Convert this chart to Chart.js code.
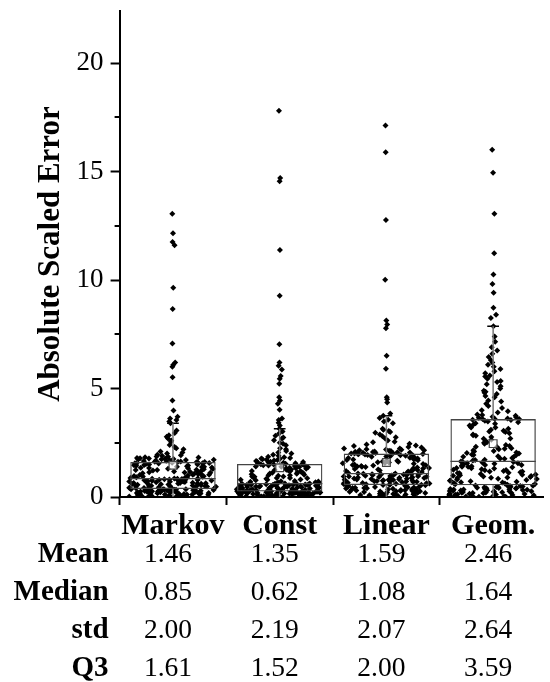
<!DOCTYPE html>
<html>
<head>
<meta charset="utf-8">
<title>Absolute Scaled Error</title>
<script src="https://cdn.jsdelivr.net/npm/chart.js@4"></script>
<style>
html, body { margin: 0; padding: 0; background: #fff; }
</style>
</head>
<body>
<canvas id="myChart" width="550" height="682"></canvas>
<script>
var categories = ['Markov', 'Const', 'Linear', 'Geom.']

// absolute scaled error of every test series, one list per forecaster
var markovErr = [
    0.02,0.03,0.04,0.05,0.05,0.07,0.08,0.09,0.1,0.11,
    0.11,0.13,0.14,0.15,0.16,0.17,0.18,0.18,0.2,0.21,
    0.22,0.23,0.24,0.25,0.25,0.26,0.27,0.28,0.29,0.3,
    0.3,0.31,0.32,0.33,0.33,0.34,0.35,0.36,0.36,0.37,
    0.38,0.4,0.41,0.42,0.44,0.45,0.46,0.48,0.49,0.5,
    0.52,0.53,0.54,0.56,0.57,0.58,0.6,0.61,0.62,0.63,
    0.65,0.66,0.67,0.69,0.7,0.71,0.72,0.74,0.75,0.76,
    0.77,0.78,0.79,0.8,0.81,0.82,0.83,0.84,0.84,0.85,
    0.87,0.89,0.91,0.93,0.95,0.97,0.99,1.01,1.03,1.05,
    1.07,1.1,1.12,1.14,1.16,1.18,1.2,1.22,1.24,1.26,
    1.28,1.3,1.32,1.34,1.36,1.38,1.4,1.42,1.44,1.46,
    1.48,1.5,1.52,1.53,1.55,1.56,1.58,1.59,1.6,1.61,
    1.63,1.66,1.68,1.7,1.73,1.75,1.78,1.8,1.83,1.87,
    1.92,2.0,2.1,2.2,2.3,2.4,2.55,2.7,2.78,2.85,
    2.95,3.06,3.4,3.48,3.55,3.62,3.7,3.99,4.45,5.52,
    6.0,6.1,6.2,7.07,8.67,9.65,11.6,11.75,12.16,13.05,
    0.01,0.03,0.06,0.08,0.12,0.14,0.17,0.19,0.22,0.24,
    0.27,0.29,0.31,0.34,0.36,0.39,0.43,0.47,0.51,0.55,
    0.59,0.62,0.64,0.68,0.71,0.73,0.76,0.79,0.82,0.85,
    0.9,0.96,1.02,1.08,1.13,1.19,1.25,1.29,1.35,1.4,
    1.45,1.5,1.54,1.57,1.6,1.62,1.64,1.67,1.69,1.72,
    1.74,1.77,1.79,1.82,1.85,1.9,1.95,2.05,2.25,2.6
]
var constErr = [
    0.01,0.01,0.02,0.03,0.03,0.04,0.05,0.05,0.06,0.07,
    0.07,0.08,0.09,0.09,0.1,0.11,0.11,0.12,0.13,0.13,
    0.14,0.15,0.15,0.16,0.17,0.17,0.18,0.19,0.19,0.2,
    0.21,0.21,0.22,0.22,0.23,0.23,0.24,0.24,0.25,0.25,
    0.26,0.27,0.28,0.29,0.3,0.31,0.32,0.33,0.34,0.35,
    0.36,0.37,0.38,0.39,0.4,0.41,0.42,0.43,0.44,0.45,
    0.46,0.47,0.48,0.49,0.5,0.51,0.52,0.53,0.54,0.55,
    0.56,0.57,0.58,0.59,0.59,0.6,0.6,0.61,0.61,0.62,
    0.64,0.66,0.68,0.7,0.72,0.74,0.77,0.79,0.81,0.84,
    0.86,0.88,0.9,0.93,0.95,0.98,1.0,1.02,1.05,1.07,
    1.1,1.12,1.15,1.17,1.2,1.22,1.25,1.27,1.3,1.32,
    1.35,1.37,1.39,1.41,1.43,1.45,1.47,1.49,1.5,1.52,
    1.55,1.58,1.62,1.66,1.7,1.74,1.78,1.83,1.9,2.0,
    2.12,2.25,2.38,2.5,2.62,2.74,2.82,2.93,3.02,3.14,
    3.3,3.42,3.55,3.62,4.02,4.3,4.45,4.6,5.22,5.45,
    5.58,5.88,6.05,6.2,7.04,9.27,11.39,14.55,14.7,17.8,
    0.01,0.02,0.04,0.06,0.08,0.1,0.12,0.14,0.16,0.18,
    0.2,0.22,0.23,0.24,0.25,0.27,0.3,0.33,0.36,0.39,
    0.42,0.45,0.47,0.5,0.52,0.55,0.57,0.58,0.6,0.62,
    0.67,0.73,0.8,0.87,0.94,1.0,1.08,1.14,1.2,1.26,
    1.33,1.38,1.42,1.46,1.51,1.53,1.56,1.59,1.61,1.64,
    1.68,1.72,1.76,1.8,1.86,1.95,2.05,2.2,2.45,2.7
]
var linearErr = [
    0.02,0.03,0.05,0.06,0.08,0.09,0.1,0.12,0.13,0.15,
    0.16,0.17,0.19,0.2,0.22,0.23,0.24,0.26,0.27,0.29,
    0.3,0.31,0.33,0.34,0.35,0.37,0.38,0.4,0.41,0.42,
    0.44,0.45,0.46,0.48,0.49,0.5,0.51,0.52,0.54,0.55,
    0.56,0.57,0.59,0.6,0.61,0.63,0.64,0.65,0.67,0.68,
    0.69,0.71,0.72,0.73,0.75,0.76,0.77,0.79,0.8,0.81,
    0.83,0.84,0.85,0.87,0.88,0.89,0.91,0.92,0.93,0.95,
    0.96,0.97,0.99,1.0,1.01,1.03,1.04,1.05,1.07,1.08,
    1.1,1.12,1.15,1.17,1.2,1.22,1.24,1.27,1.29,1.31,
    1.34,1.36,1.38,1.41,1.43,1.45,1.48,1.5,1.52,1.55,
    1.57,1.59,1.62,1.64,1.66,1.69,1.71,1.73,1.76,1.78,
    1.8,1.83,1.85,1.87,1.9,1.92,1.94,1.96,1.98,2.0,
    2.02,2.04,2.06,2.08,2.1,2.13,2.16,2.18,2.2,2.24,
    2.3,2.37,2.45,2.52,2.6,2.7,2.8,2.88,2.96,3.04,
    3.1,3.15,3.4,3.48,3.56,3.64,3.75,3.85,4.35,4.5,
    4.6,5.91,6.51,7.78,7.95,8.13,10.01,12.77,15.89,17.12,
    0.01,0.04,0.07,0.11,0.14,0.18,0.21,0.25,0.28,0.32,
    0.36,0.39,0.43,0.47,0.53,0.58,0.62,0.66,0.7,0.74,
    0.78,0.82,0.86,0.9,0.94,0.98,1.02,1.04,1.06,1.08,
    1.14,1.19,1.26,1.33,1.39,1.46,1.53,1.6,1.67,1.74,
    1.81,1.88,1.93,1.97,1.99,2.01,2.03,2.05,2.07,2.09,
    2.12,2.15,2.19,2.23,2.28,2.35,2.42,2.55,2.75,3.0
]
var geomErr = [
    0.01,0.02,0.04,0.05,0.06,0.08,0.09,0.1,0.12,0.13,
    0.14,0.16,0.17,0.18,0.2,0.21,0.22,0.24,0.25,0.26,
    0.28,0.29,0.3,0.32,0.33,0.34,0.36,0.37,0.38,0.4,
    0.41,0.42,0.44,0.45,0.46,0.48,0.49,0.5,0.52,0.54,
    0.56,0.59,0.62,0.64,0.67,0.7,0.73,0.75,0.78,0.81,
    0.84,0.87,0.89,0.92,0.95,0.98,1.0,1.03,1.06,1.09,
    1.12,1.14,1.17,1.2,1.23,1.26,1.28,1.31,1.34,1.37,
    1.4,1.42,1.45,1.48,1.5,1.53,1.56,1.59,1.62,1.64,
    1.68,1.72,1.76,1.8,1.84,1.88,1.92,1.96,2.0,2.05,
    2.1,2.15,2.2,2.25,2.3,2.35,2.4,2.46,2.52,2.58,
    2.64,2.7,2.76,2.82,2.88,2.94,3.0,3.05,3.1,3.15,
    3.2,3.25,3.3,3.35,3.4,3.44,3.48,3.52,3.56,3.59,
    3.6,3.62,3.65,3.7,3.75,3.8,3.9,4.0,4.1,4.3,
    4.45,4.6,4.75,4.8,4.9,5.0,5.2,5.3,5.45,5.6,
    5.7,5.8,6.0,6.1,6.2,6.45,6.6,6.75,7.15,7.87,
    8.25,8.4,8.72,9.41,9.82,10.25,11.24,13.05,14.94,16.01,
    0.01,0.03,0.07,0.11,0.15,0.19,0.23,0.27,0.31,0.35,
    0.39,0.43,0.47,0.51,0.53,0.6,0.68,0.76,0.83,0.9,
    0.97,1.04,1.11,1.18,1.25,1.33,1.4,1.47,1.55,1.61,
    1.7,1.78,1.86,1.94,2.03,2.12,2.22,2.32,2.5,2.68,
    2.85,3.02,3.2,3.38,3.55,3.61,3.68,3.78,3.95,4.2,
    4.4,4.65,4.85,5.1,5.35,5.55,5.9,6.3,6.9,7.4
]

// summary statistics (table rows) and the box ends
var meanErr = [1.46, 1.35, 1.59, 2.46]
var medianErr = [0.85, 0.62, 1.08, 1.64]
var stdErr = [2.00, 2.19, 2.07, 2.64]
var q3Err = [1.61, 1.52, 2.00, 3.59]
var q1Err = [0.37, 0.25, 0.55, 0.54]
var whiskerHi = [3.40, 3.14, 3.75, 7.87]

var rowNames = ['Mean', 'Median', 'std', 'Q3']
var yTicks = [0, 5, 10, 15, 20]
var yMinorTicks = [2.5, 7.5, 12.5, 17.5]

var serif = "'Liberation Serif', 'Times New Roman', serif"
var allErr = [markovErr, constErr, linearErr, geomErr]

// fixed scatter for the sideways jitter, so every load looks the same
function jitter(n){
    var t = (n + 1) * 0x6D2B79F5
    t = Math.imul(t ^ (t >>> 15), t | 1)
    t ^= t + Math.imul(t ^ (t >>> 7), t | 61)
    return ((t ^ (t >>> 14)) >>> 0) / 4294967296
}

// spread the points sideways: wide where values are dense, thin for the stragglers
function swarm(values, pos){
    var sorted = values.slice().sort(function(a, b){ return a - b })
    var dens = sorted.map(function(v){
        var s = 0
        for(var j = 0; j < sorted.length; j++){
            var d1 = (v - sorted[j]) / 0.25
            var d2 = (v + sorted[j]) / 0.25
            s += Math.exp(-d1*d1/2) + Math.exp(-d2*d2/2)
        }
        return s
    })
    var top = Math.max.apply(null, dens)
    return sorted.map(function(v, i){
        var w = 0.41 * Math.min(1, 2 * dens[i] / top)
        var u = jitter(pos * 1000 + i) * 2 - 1
        return {x: pos + u * w, y: v}
    })
}

// line pieces with a break after each one
function segs(list){
    var out = []
    list.forEach(function(s){
        out.push({x: s[0], y: s[1]}, {x: s[2], y: s[3]}, {x: s[2], y: null})
    })
    return out
}

var points = []
var boxes = []
var medians = []
var whiskers = []
var caps = []
var means = []
for(var i = 0; i < categories.length; i++){
    points = points.concat(swarm(allErr[i], i))
    var lo = Math.min.apply(null, allErr[i])
    boxes.push({x: i, y: [q1Err[i], q3Err[i]]})
    medians.push([i - 0.4, medianErr[i], i + 0.4, medianErr[i]])
    whiskers.push([i, q3Err[i], i, whiskerHi[i]], [i, q1Err[i], i, lo])
    caps.push([i - 0.055, whiskerHi[i], i + 0.055, whiskerHi[i]], [i - 0.055, lo, i + 0.055, lo])
    means.push({x: i, y: meanErr[i]})
}

var statTable = {
    id: 'statTable',
    afterDraw: function(chart){
        var ctx = chart.ctx
        var xs = chart.scales.x
        var ys = chart.scales.y
        var area = chart.chartArea
        ctx.save()
        // short ticks between the labelled ones
        ctx.strokeStyle = '#000'
        ctx.lineWidth = 2
        yMinorTicks.forEach(function(v){
            var y = Math.round(ys.getPixelForValue(v))
            ctx.beginPath()
            ctx.moveTo(area.left - 5, y)
            ctx.lineTo(area.left, y)
            ctx.stroke()
        })
        var rows = [meanErr, medianErr, stdErr, q3Err]
        ctx.fillStyle = '#000'
        ctx.textBaseline = 'alphabetic'
        for(var r = 0; r < rows.length; r++){
            var y = area.bottom + 65 + r * 38
            ctx.font = 'bold 29px ' + serif
            ctx.textAlign = 'right'
            ctx.fillText(rowNames[r], area.left - 11, y)
            ctx.font = '27.5px ' + serif
            ctx.textAlign = 'center'
            for(var c = 0; c < categories.length; c++){
                ctx.fillText(rows[r][c].toFixed(2), xs.getPixelForValue(c) - 5, y)
            }
        }
        ctx.restore()
    }
}

var ctx = document.getElementById('myChart').getContext('2d')
var myChart = new Chart(ctx, {
    type: 'scatter',
    data: {
        datasets: [{
            type: 'scatter',
            data: points,
            pointStyle: 'rectRot',
            pointRadius: 3,
            backgroundColor: '#000',
            borderWidth: 0,
            order: 4
        }, {
            type: 'bar',
            data: boxes,
            backgroundColor: 'rgba(0,0,0,0)',
            borderColor: '#444',
            borderWidth: 1.3,
            borderSkipped: false,
            barPercentage: 1,
            categoryPercentage: 0.8,
            order: 3
        }, {
            type: 'line',
            data: segs(medians),
            borderColor: '#444',
            borderWidth: 1.3,
            pointRadius: 0,
            spanGaps: false,
            order: 2
        }, {
            type: 'line',
            data: segs(whiskers),
            borderColor: '#777',
            borderWidth: 1.5,
            pointRadius: 0,
            spanGaps: false,
            order: 2
        }, {
            type: 'line',
            data: segs(caps),
            borderColor: '#000',
            borderWidth: 1.5,
            pointRadius: 0,
            spanGaps: false,
            order: 2
        }, {
            type: 'scatter',
            data: means,
            pointStyle: 'rect',
            pointRadius: 5.5,
            backgroundColor: 'rgba(255,255,255,0.6)',
            borderColor: '#444',
            borderWidth: 1.2,
            order: 1
        }]
    },
    options: {
        responsive: false,
        devicePixelRatio: 1,
        animation: false,
        layout: { padding: { top: 11, left: 32.4, right: 0, bottom: 135 } },
        plugins: {
            legend: { display: false },
            tooltip: { enabled: false }
        },
        scales: {
            x: {
                type: 'linear',
                min: -0.5,
                max: 3.47,
                offset: false,
                afterBuildTicks: function(scale){
                    scale.ticks = categories.map(function(c, i){ return {value: i} })
                },
                grid: { drawOnChartArea: false, tickLength: 8, tickColor: '#000', tickWidth: 2 },
                border: { color: '#000', width: 2 },
                ticks: {
                    color: '#000',
                    padding: 3,
                    maxRotation: 0,
                    autoSkip: false,
                    font: { family: serif, size: 30, weight: 'bold' },
                    callback: function(v){ return categories[v] }
                }
            },
            y: {
                min: 0,
                max: 22.4,
                afterBuildTicks: function(scale){
                    scale.ticks = yTicks.map(function(v){ return {value: v} })
                },
                // the labels never sit on the ends, so no extra room above the axis
                afterFit: function(scale){
                    scale.paddingTop = 0
                    scale.paddingBottom = 0
                },
                grid: { drawOnChartArea: false, tickLength: 9, tickColor: '#000', tickWidth: 2 },
                border: { color: '#000', width: 2 },
                ticks: {
                    color: '#000',
                    padding: 7,
                    font: { family: serif, size: 27 }
                },
                title: {
                    display: true,
                    text: 'Absolute Scaled Error',
                    color: '#000',
                    padding: { top: 0, bottom: 0 },
                    font: { family: serif, size: 31, weight: 'bold' }
                }
            }
        }
    },
    plugins: [statTable]
})
</script>
</body>
</html>
